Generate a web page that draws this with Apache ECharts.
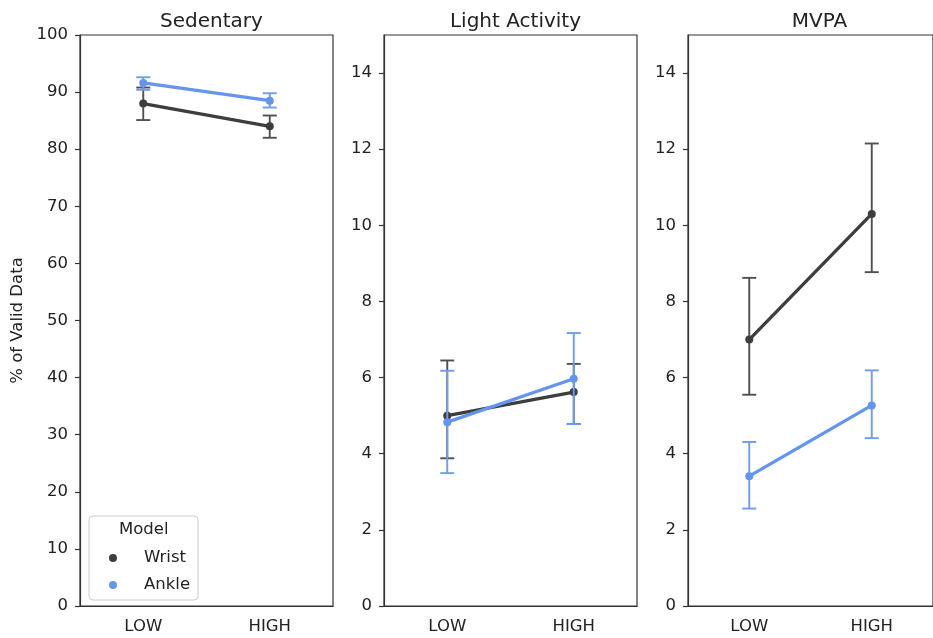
<!DOCTYPE html>
<html>
<head>
<meta charset="utf-8">
<script src="https://cdn.jsdelivr.net/npm/echarts@6/dist/echarts.min.js"></script>
<style>
  html, body { margin: 0; padding: 0; background: #fff; }
  #chart { width: 933px; height: 638px; }
</style>
</head>
<body>
<div id="chart"></div>
<script>
// Categories and panel titles
const groups = ['LOW', 'HIGH'];
const panelTitles = ['Sedentary', 'Light Activity', 'MVPA'];

// Tick values per panel
const sedentaryTicks = [0, 10, 20, 30, 40, 50, 60, 70, 80, 90, 100];
const activityTicks = [0, 2, 4, 6, 8, 10, 12, 14];

// Sedentary (% of valid data): means and 95% CI [low, high]
const sedentaryWrist = [88.0, 84.0];
const sedentaryWristCI = [[85.1, 90.8], [82.0, 85.9]];
const sedentaryAnkle = [91.6, 88.5];
const sedentaryAnkleCI = [[90.4, 92.6], [87.3, 89.8]];

// Light activity
const lightWrist = [5.0, 5.62];
const lightWristCI = [[3.88, 6.45], [4.78, 6.36]];
const lightAnkle = [4.83, 5.97];
const lightAnkleCI = [[3.49, 6.18], [4.78, 7.17]];

// MVPA
const mvpaWrist = [7.0, 10.3];
const mvpaWristCI = [[5.55, 8.62], [8.77, 12.15]];
const mvpaAnkle = [3.41, 5.27];
const mvpaAnkleCI = [[2.56, 4.31], [4.41, 6.19]];

const wristColor = '#3d3d3d';
const wristErrColor = '#505050';
const ankleColor = '#6495ed';
const ankleErrColor = '#6f9cee';
const font = 'DejaVu Sans';

const panels = [
  { wrist: sedentaryWrist, wristCI: sedentaryWristCI, ankle: sedentaryAnkle, ankleCI: sedentaryAnkleCI, max: 100, ticks: sedentaryTicks },
  { wrist: lightWrist, wristCI: lightWristCI, ankle: lightAnkle, ankleCI: lightAnkleCI, max: 15, ticks: activityTicks },
  { wrist: mvpaWrist, wristCI: mvpaWristCI, ankle: mvpaAnkle, ankleCI: mvpaAnkleCI, max: 15, ticks: activityTicks }
];

const gridLefts = [80, 384, 688];
const gridWidth = 253;
const gridTop = 35;
const gridHeight = 571;

// Vertical CI whisker with caps at both ends
function errorBars(color) {
  return function (params, api) {
    const idx = api.value(0);
    const lo = api.coord([idx, api.value(1)]);
    const hi = api.coord([idx, api.value(2)]);
    const cap = 7;
    const style = { stroke: color, lineWidth: 1.9 };
    return {
      type: 'group',
      children: [
        { type: 'line', shape: { x1: lo[0], y1: lo[1], x2: hi[0], y2: hi[1] }, style: style },
        { type: 'line', shape: { x1: hi[0] - cap, y1: hi[1], x2: hi[0] + cap, y2: hi[1] }, style: style },
        { type: 'line', shape: { x1: lo[0] - cap, y1: lo[1], x2: lo[0] + cap, y2: lo[1] }, style: style }
      ]
    };
  };
}

const grids = [], xAxes = [], yAxes = [], titles = [], series = [];

panels.forEach((p, i) => {
  grids.push({
    left: gridLefts[i], top: gridTop, width: gridWidth, height: gridHeight,
    show: true, borderColor: '#333', borderWidth: 1.2, backgroundColor: '#fff'
  });
  titles.push({
    text: panelTitles[i],
    left: gridLefts[i] + gridWidth / 2,
    top: 7,
    textAlign: 'center',
    textStyle: { fontFamily: font, fontSize: 20, fontWeight: 'normal', color: '#222' }
  });
  xAxes.push({
    type: 'category', gridIndex: i, data: groups, boundaryGap: true,
    axisLine: { lineStyle: { color: '#333', width: 1.2 } },
    axisTick: { alignWithLabel: true, length: 5, lineStyle: { color: '#333', width: 1.2 } },
    axisLabel: { fontFamily: font, fontSize: 16.5, color: '#222', margin: 12 },
    splitLine: { show: false }
  });
  yAxes.push({
    type: 'value', gridIndex: i, min: 0, max: p.max,
    name: i === 0 ? '% of Valid Data' : '',
    nameLocation: 'middle', nameGap: 54, nameRotate: 90,
    nameTextStyle: { fontFamily: font, fontSize: 16.5, color: '#222' },
    axisLine: { show: true, lineStyle: { color: '#333', width: 1.2 } },
    axisTick: { show: true, length: 5, customValues: p.ticks, lineStyle: { color: '#333', width: 1.2 } },
    axisLabel: { fontFamily: font, fontSize: 16.5, color: '#222', margin: 12, customValues: p.ticks },
    splitLine: { show: false }
  });

  const order = [
    { name: 'Wrist', vals: p.wrist, ci: p.wristCI, color: wristColor, err: wristErrColor },
    { name: 'Ankle', vals: p.ankle, ci: p.ankleCI, color: ankleColor, err: ankleErrColor }
  ];
  order.forEach((s, k) => {
    series.push({
      type: 'custom', name: s.name + ' CI', xAxisIndex: i, yAxisIndex: i,
      renderItem: errorBars(s.err),
      data: s.ci.map((c, j) => [j, c[0], c[1]]),
      z: 2 + k * 2, silent: true
    });
    series.push({
      type: 'line', name: s.name, xAxisIndex: i, yAxisIndex: i,
      data: s.vals,
      color: s.color,
      symbol: 'circle', symbolSize: 8,
      lineStyle: { width: 3.3, color: s.color },
      itemStyle: { color: s.color },
      z: 3 + k * 2, animation: false
    });
  });
});

const chart = echarts.init(document.getElementById('chart'), null, { renderer: 'canvas' });
chart.setOption({
  backgroundColor: '#fff',
  animation: false,
  title: titles,
  grid: grids,
  xAxis: xAxes,
  yAxis: yAxes,
  legend: {
    data: ['Wrist', 'Ankle'],
    orient: 'vertical',
    left: 89, top: 516,
    padding: [33, 8, 6, 20],
    width: 109,
    itemWidth: 8, itemHeight: 8, itemGap: 9,
    icon: 'circle',
    backgroundColor: 'rgba(255,255,255,0.85)',
    borderColor: '#cccccc', borderWidth: 1, borderRadius: 4,
    selectedMode: false,
    textStyle: { fontFamily: font, fontSize: 16.5, color: '#222', padding: [0, 0, 0, 22], lineHeight: 18 }
  },
  graphic: [{
    type: 'text', left: 119, top: 521, z: 10,
    style: { text: 'Model', fontFamily: font, fontSize: 16.5, fill: '#222' }
  }],
  series: series
});
</script>
</body>
</html>
